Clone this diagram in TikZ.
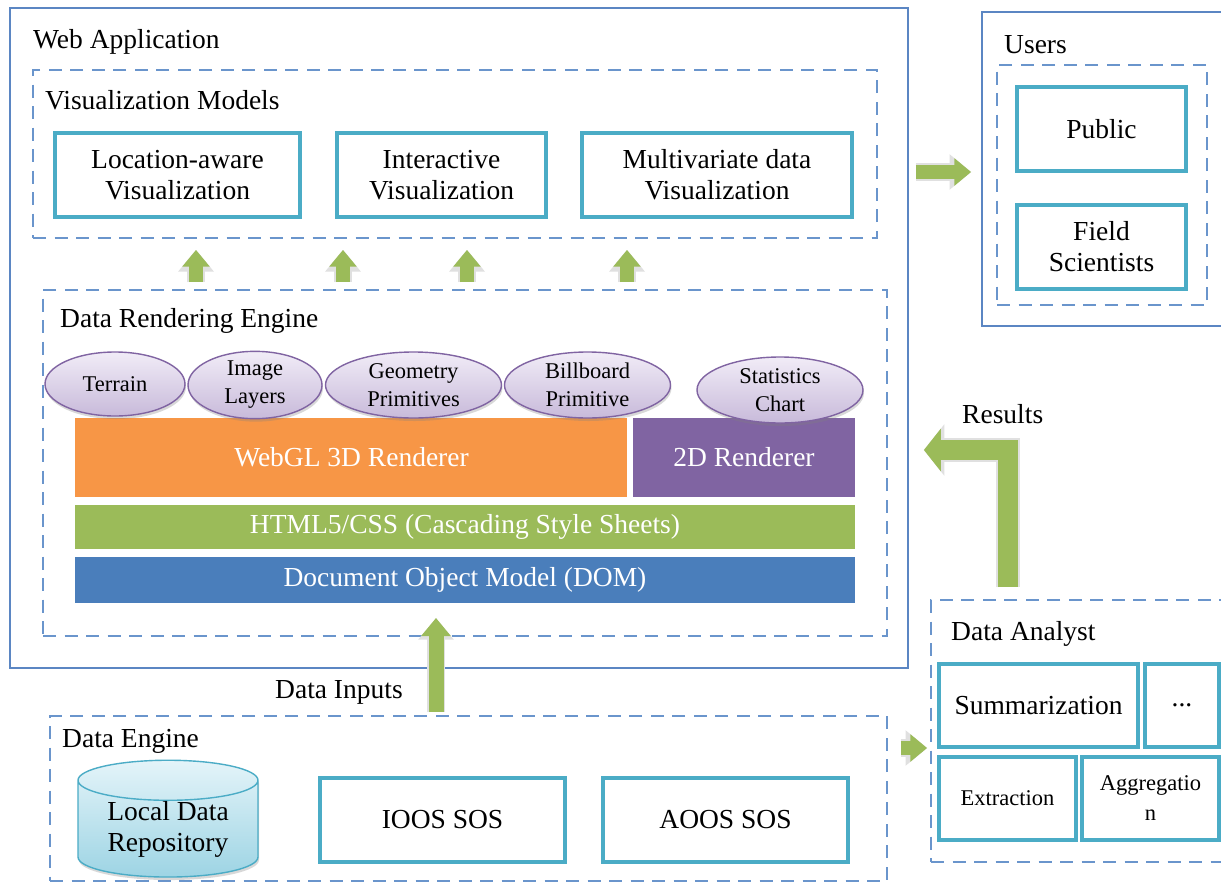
\documentclass[tikz,border=0pt]{standalone}
\usepackage{fontspec}
\setmainfont{Liberation Serif}
\usepackage{xcolor}
\definecolor{frameblue}{HTML}{5B86C3}
\definecolor{dashblue}{HTML}{6A95CC}
\definecolor{boxteal}{HTML}{4BACC6}
\definecolor{arrowgreen}{HTML}{9BBB59}
\definecolor{webglorange}{HTML}{F79646}
\definecolor{twodpurple}{HTML}{8064A2}
\definecolor{cssgreen}{HTML}{9BBB59}
\definecolor{domblue}{HTML}{4A7EBB}
\definecolor{ovaltop}{HTML}{F1ECF7}
\definecolor{ovalbot}{HTML}{C8BADA}
\definecolor{dbtop}{HTML}{E4F4F9}
\definecolor{dbbot}{HTML}{9DD4E4}
\usepackage{tikz}
\usetikzlibrary{arrows.meta,shapes.geometric,shadows}

\begin{document}
\begin{tikzpicture}[x=1pt,y=-1pt,
  every node/.style={font=\fontsize{27.5}{31}\selectfont,text=black},
  solidframe/.style={draw=frameblue,line width=1.8pt,rectangle,inner sep=0pt},
  dashframe/.style={draw=dashblue,line width=1.8pt,dash pattern=on 13pt off 8.5pt,rectangle,inner sep=0pt},
  itembox/.style={draw=boxteal,line width=3.5pt,fill=white,rectangle,align=center,inner sep=2pt},
  layerbar/.style={draw=white,line width=6pt,rectangle,text=white,inner sep=0pt,
    drop shadow={shadow xshift=1.5pt,shadow yshift=-2.5pt,opacity=.4}},
  oval/.style={draw=twodpurple,line width=1.4pt,ellipse,top color=ovaltop,bottom color=ovalbot,
    align=center,inner sep=0pt,font=\fontsize{22.5}{28}\selectfont,
    drop shadow={shadow xshift=1pt,shadow yshift=-3pt,opacity=.3}},
  title/.style={anchor=west,inner sep=0pt},
  greenarrow/.style={draw=arrowgreen,line width=14pt,-{Triangle[length=0pt 1.2,width=0pt 1.9]},
    preaction={draw=black!12,line width=18pt}},
  bentarrow/.style={draw=arrowgreen,line width=20pt,line join=miter,-{Triangle[length=0pt 0.85,width=0pt 2.1]},
    preaction={draw=black!12,line width=24pt}},
]
\clip (0,0) rectangle (1221,884);
\fill[white] (0,0) rectangle (1221,884);

% web application
\node[solidframe,minimum width=898pt,minimum height=660pt] (webapp) at (459,338) {};
\node[title] (webappTitle) at (33,42) {Web Application};
\node[dashframe,minimum width=844pt,minimum height=168pt] (vismodels) at (455,154) {};
\node[title] (vismodelsTitle) at (45,100) {Visualization Models};
\node[itembox,minimum width=245pt,minimum height=84pt] (locvis) at (177.5,175) {Location-aware\\Visualization};
\node[itembox,minimum width=209pt,minimum height=84pt] (intvis) at (441.5,175) {Interactive\\Visualization};
\node[itembox,minimum width=270pt,minimum height=84pt] (mvvis) at (717,175) {Multivariate data\\Visualization};

% rendering engine
\node[dashframe,minimum width=844pt,minimum height=346pt] (rendering) at (465,463) {};
\node[title] (renderingTitle) at (60,321) {Data Rendering Engine};
\node[layerbar,fill=domblue,minimum width=786pt,minimum height=52pt] (dom) at (465,580) {Document Object Model (DOM)};
\node[layerbar,fill=cssgreen,minimum width=786pt,minimum height=50pt] (css) at (465,527) {HTML5/CSS (Cascading Style Sheets)};
\node[layerbar,fill=webglorange,minimum width=559pt,minimum height=85pt] (webgl) at (351.5,457.5) {WebGL 3D Renderer};
\node[layerbar,fill=twodpurple,minimum width=228pt,minimum height=85pt] (twod) at (744,457.5) {2D Renderer};
\node[oval,minimum width=140pt,minimum height=64pt] (terrain) at (115,384) {Terrain};
\node[oval,minimum width=134pt,minimum height=66pt] (imagelayers) at (255,385) {Image\\Layers};
\node[oval,minimum width=176pt,minimum height=66pt] (geometry) at (413.5,385) {Geometry\\Primitives};
\node[oval,minimum width=166pt,minimum height=66pt] (billboard) at (587.5,385) {Billboard\\Primitive};
\node[oval,minimum width=166pt,minimum height=66pt] (statchart) at (780,390) {Statistics\\Chart};

% users
\node[solidframe,minimum width=246pt,minimum height=314pt] (users) at (1105,169) {};
\node[title] (usersTitle) at (1004,45) {Users};
\node[dashframe,minimum width=210pt,minimum height=240pt] (usergroup) at (1102,185) {};
\node[itembox,minimum width=169pt,minimum height=84pt] (public) at (1101.5,129) {Public};
\node[itembox,minimum width=169pt,minimum height=84pt] (fieldsci) at (1101.5,247) {Field\\Scientists};

% data analyst
\node[dashframe,minimum width=299pt,minimum height=262pt] (analyst) at (1080.5,731) {};
\node[title] (analystTitle) at (951,634) {Data Analyst};
\node[itembox,minimum width=199pt,minimum height=83pt] (summ) at (1038.5,705.5) {Summarization};
\node[itembox,minimum width=74pt,minimum height=83pt] (more) at (1182,705.5) {...};
\node[itembox,minimum width=137pt,minimum height=83pt,font=\fontsize{22.5}{30}\selectfont] (extract) at (1007.5,798.5) {Extraction};
\node[itembox,minimum width=137pt,minimum height=83pt,font=\fontsize{22.5}{30}\selectfont] (aggreg) at (1150.5,798.5) {Aggregatio\\n};

% data engine
\node[dashframe,minimum width=837pt,minimum height=165pt] (dataengine) at (468.5,798.5) {};
\node[title] (dataengineTitle) at (62,741) {Data Engine};
\node[draw=boxteal,line width=1.4pt,cylinder,shape border rotate=90,aspect=0.33,top color=dbtop,bottom color=dbbot,
  minimum width=180pt,minimum height=107pt,align=center,inner sep=0pt,
  drop shadow={shadow xshift=1pt,shadow yshift=-3pt,opacity=.3}] (localdb) at (168,829) {Local Data\\Repository};
\node[itembox,minimum width=245pt,minimum height=84pt] (ioos) at (442.5,820) {IOOS SOS};
\node[itembox,minimum width=245pt,minimum height=84pt] (aoos) at (725.5,820) {AOOS SOS};

\node[title] (inputsLabel) at (275,692) {Data Inputs};
\node[title] (resultsLabel) at (962,414) {Results};

% arrows
\draw[greenarrow,shorten <=7pt,shorten >=11pt] (196,0 |- rendering.north) -- (196,0 |- vismodels.south);
\draw[greenarrow,shorten <=7pt,shorten >=11pt] (343,0 |- rendering.north) -- (343,0 |- vismodels.south);
\draw[greenarrow,shorten <=7pt,shorten >=11pt] (467,0 |- rendering.north) -- (467,0 |- vismodels.south);
\draw[greenarrow,shorten <=7pt,shorten >=11pt] (627,0 |- rendering.north) -- (627,0 |- vismodels.south);
\draw[greenarrow,line width=15pt,shorten <=3pt,shorten >=9pt] (436,0 |- dataengine.north) -- (436,0 |- dom.south);
\draw[greenarrow,shorten <=7pt,shorten >=10pt] (webapp.east |- 0,172) -- (users.west |- 0,172);
\draw[greenarrow,shorten <=13pt,shorten >=3pt] (dataengine.east |- 0,748) -- (analyst.west |- 0,748);
\draw[bentarrow,shorten <=12pt,shorten >=15pt] (1008,0 |- analyst.north) |- (webapp.east |- 0,450);
\end{tikzpicture}
\end{document}
